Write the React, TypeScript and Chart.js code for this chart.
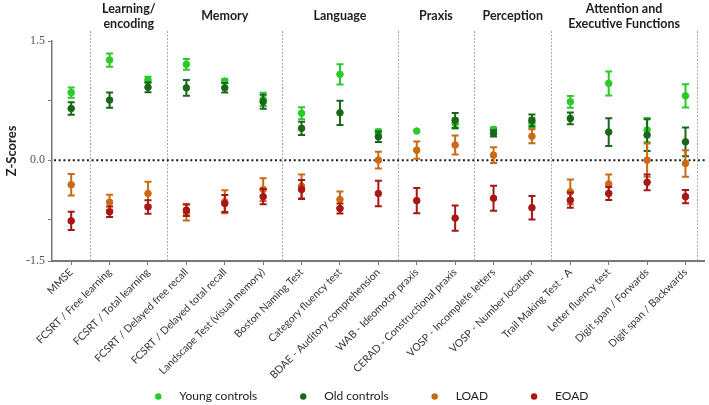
import React, { useEffect, useRef } from 'react';
import { Chart, registerables } from 'chart.js';
Chart.register(...registerables);

const categories = [
  'MMSE',
  'FCSRT / Free learning',
  'FCSRT / Total learning',
  'FCSRT / Delayed free recall',
  'FCSRT / Delayed total recall',
  'Landscape Test (visual memory)',
  'Boston Naming Test',
  'Category fluency test',
  'BDAE - Auditory comprehension',
  'WAB - Ideomotor praxis',
  'CERAD - Constructional praxis',
  'VOSP - Incomplete letters',
  'VOSP - Number location',
  'Trail Making Test - A',
  'Letter fluency test',
  'Digit span / Forwards',
  'Digit span / Backwards',
];

const seriesNames = ['Young controls', 'Old controls', 'LOAD', 'EOAD'];
const seriesColors = ['#2BC92B', '#1A661A', '#CC6A14', '#A81616'];

const youngValues = [0.85, 1.26, 1.01, 1.206, 0.996, 0.765, 0.59, 1.08, 0.357, 0.366, 0.46, 0.387, 0.47, 0.735, 0.966, 0.378, 0.81];
const youngErrors = [0.063, 0.084, 0.04, 0.067, 0.025, 0.084, 0.076, 0.128, 0.03, 0, 0.063, 0.025, 0.063, 0.074, 0.151, 0.153, 0.147];
const oldValues = [0.65, 0.756, 0.917, 0.91, 0.91, 0.735, 0.4, 0.596, 0.294, null, 0.5, 0.336, 0.5, 0.525, 0.353, 0.315, 0.23];
const oldErrors = [0.08, 0.095, 0.063, 0.1, 0.06, 0.088, 0.084, 0.153, 0.067, 0, 0.095, 0.04, 0.074, 0.074, 0.174, 0.2, 0.18];
const loadValues = [-0.31, -0.53, -0.42, -0.66, -0.525, -0.37, -0.33, -0.496, 0.0, 0.126, 0.19, 0.063, 0.3, -0.4, -0.3, 0.0, -0.042];
const loadErrors = [0.135, 0.095, 0.147, 0.1, 0.145, 0.143, 0.15, 0.1, 0.105, 0.11, 0.12, 0.1, 0.088, 0.155, 0.12, 0.21, 0.168];
const eoadValues = [-0.765, -0.65, -0.59, -0.63, -0.546, -0.46, -0.37, -0.61, -0.42, -0.51, -0.73, -0.48, -0.6, -0.504, -0.42, -0.28, -0.46];
const eoadErrors = [0.115, 0.067, 0.086, 0.074, 0.107, 0.095, 0.12, 0.063, 0.16, 0.16, 0.158, 0.158, 0.149, 0.095, 0.082, 0.1, 0.084];

const seriesValues = [youngValues, oldValues, loadValues, eoadValues];
const seriesErrors = [youngErrors, oldErrors, loadErrors, eoadErrors];

const groupLabels = [['Learning/', 'encoding'], ['Memory'], ['Language'], ['Praxis'], ['Perception'], ['Attention and', 'Executive Functions']];
const groupStarts = [0.5, 2.5, 5.5, 8.5, 10.5, 12.5];
const groupEnds = [2.5, 5.5, 8.5, 10.5, 12.5, 16.3];

const yMin = -1.27;
const yMax = 1.5;
const yTickValues = [1.5, 0.75, 0, -0.75, -1.27];
const yTickLabels = ['1.5', '', '0.0', '', '-1.5'];

const FONT = 'Lato, "Open Sans", sans-serif';

const errorBarPlugin = {
  id: 'errorBars',
  beforeDatasetDraw(chart: any, args: any) {
    const i = args.index;
    const vals = seriesValues[i];
    const errs = seriesErrors[i];
    const ys = chart.scales.y;
    const ctx = chart.ctx;
    ctx.save();
    ctx.strokeStyle = seriesColors[i];
    ctx.lineWidth = 2;
    args.meta.data.forEach((pt: any, j: number) => {
      const v = vals[j];
      const e = errs[j];
      if (v == null || !e) return;
      const x = pt.x;
      const top = ys.getPixelForValue(v + e);
      const bot = ys.getPixelForValue(v - e);
      ctx.beginPath();
      ctx.moveTo(x, top);
      ctx.lineTo(x, bot);
      ctx.moveTo(x - 3.5, top);
      ctx.lineTo(x + 3.5, top);
      ctx.moveTo(x - 3.5, bot);
      ctx.lineTo(x + 3.5, bot);
      ctx.stroke();
    });
    ctx.restore();
  },
};

const backgroundPlugin = {
  id: 'bgLines',
  beforeDatasetsDraw(chart: any) {
    const { ctx, chartArea } = chart;
    const xs = chart.scales.x;
    const ys = chart.scales.y;
    ctx.save();
    ctx.strokeStyle = '#a8a8a8';
    ctx.lineWidth = 1;
    ctx.setLineDash([2, 1.5]);
    const seps = [...groupStarts, groupEnds[groupEnds.length - 1]];
    seps.forEach((s) => {
      const x = Math.round(xs.getPixelForValue(s)) + 0.5;
      ctx.beginPath();
      ctx.moveTo(x, 31);
      ctx.lineTo(x, chartArea.bottom);
      ctx.stroke();
    });
    ctx.strokeStyle = '#1a1a1a';
    ctx.lineWidth = 2;
    ctx.setLineDash([2, 2.7]);
    const y0 = ys.getPixelForValue(0);
    ctx.beginPath();
    ctx.moveTo(chartArea.left + 2, y0);
    ctx.lineTo(chartArea.right + 1, y0);
    ctx.stroke();
    ctx.restore();
  },
};

const headerPlugin = {
  id: 'groupHeaders',
  afterDraw(chart: any) {
    const { ctx } = chart;
    const xs = chart.scales.x;
    ctx.save();
    ctx.font = `bold 12.5px ${FONT}`;
    ctx.fillStyle = '#1e1e1e';
    ctx.textAlign = 'center';
    ctx.textBaseline = 'middle';
    groupLabels.forEach((lines, g) => {
      const cx = (xs.getPixelForValue(groupStarts[g]) + xs.getPixelForValue(groupEnds[g])) / 2;
      if (lines.length === 1) {
        ctx.fillText(lines[0], cx, 16);
      } else {
        ctx.fillText(lines[0], cx, 8.5);
        ctx.fillText(lines[1], cx, 23.5);
      }
    });
    ctx.restore();
  },
};

const legendPlugin = {
  id: 'customLegend',
  afterDraw(chart: any) {
    const { ctx, chartArea } = chart;
    ctx.save();
    ctx.font = `12px ${FONT}`;
    const widths = seriesNames.map((n) => ctx.measureText(n).width);
    const dotToText = 21;
    const gap = 46;
    const total = widths.reduce((a, w) => a + dotToText + w + gap, 0) - gap;
    const center = (chartArea.left + chartArea.right) / 2 - 5;
    let x = center - total / 2;
    const y = 396.5;
    ctx.textBaseline = 'middle';
    ctx.textAlign = 'left';
    seriesNames.forEach((n, i) => {
      ctx.fillStyle = seriesColors[i];
      ctx.beginPath();
      ctx.arc(x, y, 3.2, 0, Math.PI * 2);
      ctx.fill();
      ctx.fillStyle = '#222';
      ctx.fillText(n, x + dotToText, y);
      x += dotToText + widths[i] + gap;
    });
    ctx.restore();
  },
};

export default function App() {
  const canvasRef = useRef<HTMLCanvasElement | null>(null);

  useEffect(() => {
    let chart: Chart | null = null;
    let cancelled = false;
    const make = () => {
      if (cancelled || !canvasRef.current) return;
      chart = new Chart(canvasRef.current, {
        type: 'line',
        data: {
          labels: categories,
          datasets: seriesNames.map((name, i) => ({
            label: name,
            data: seriesValues[i] as any,
            showLine: false,
            pointRadius: 3.3,
            pointHoverRadius: 3.3,
            pointBackgroundColor: seriesColors[i],
            pointBorderColor: seriesColors[i],
            borderColor: seriesColors[i],
            backgroundColor: seriesColors[i],
            order: 3 - i,
          })),
        },
        options: {
          responsive: false,
          animation: false,
          devicePixelRatio: 1,
          layout: { padding: { top: 41, left: 0, right: 3, bottom: 0 } },
          plugins: {
            legend: { display: false },
            tooltip: { enabled: false },
          },
          scales: {
            x: {
              offset: true,
              afterFit: (s: any) => {
                s.height = 144;
              },
              ticks: {
                autoSkip: false,
                maxRotation: 45,
                minRotation: 45,
                font: { family: FONT, size: 10.5 },
                color: '#333',
                padding: 1,
              },
              grid: { drawOnChartArea: false, drawTicks: true, tickLength: 4, color: '#777' },
              border: { color: '#777', width: 2 },
            },
            y: {
              min: yMin,
              max: yMax,
              afterBuildTicks: (s: any) => {
                s.ticks = yTickValues.map((v) => ({ value: v }));
              },
              afterFit: (s: any) => {
                s.width = 52;
              },
              ticks: {
                autoSkip: false,
                callback: (_v: any, idx: number) => yTickLabels[idx],
                font: { family: '"Liberation Serif", serif', size: 12 },
                color: '#555',
                padding: 3,
              },
              grid: { drawOnChartArea: false, drawTicks: true, tickLength: 4, color: '#777' },
              border: { color: '#777', width: 1.5 },
              title: {
                display: true,
                text: 'Z-Scores',
                font: { family: FONT, size: 13, weight: 'bold' },
                color: '#222',
                padding: { top: 4, bottom: 0 },
              },
            },
          },
        },
        plugins: [backgroundPlugin, errorBarPlugin, headerPlugin, legendPlugin],
      } as any);
    };
    const fontsReady = (document as any).fonts
      ? Promise.all([
          (document as any).fonts.load(`bold 12px Lato`),
          (document as any).fonts.load(`12px Lato`),
          (document as any).fonts.load(`12px "Liberation Serif"`),
        ]).catch(() => null)
      : Promise.resolve(null);
    fontsReady.then(make);
    return () => {
      cancelled = true;
      if (chart) chart.destroy();
    };
  }, []);

  return (
    <div style={{ position: 'absolute', left: 0, top: 0, width: 709, height: 405, background: '#fff' }}>
      <canvas ref={canvasRef} width={709} height={405} style={{ width: 709, height: 405, display: 'block' }} />
    </div>
  );
}
